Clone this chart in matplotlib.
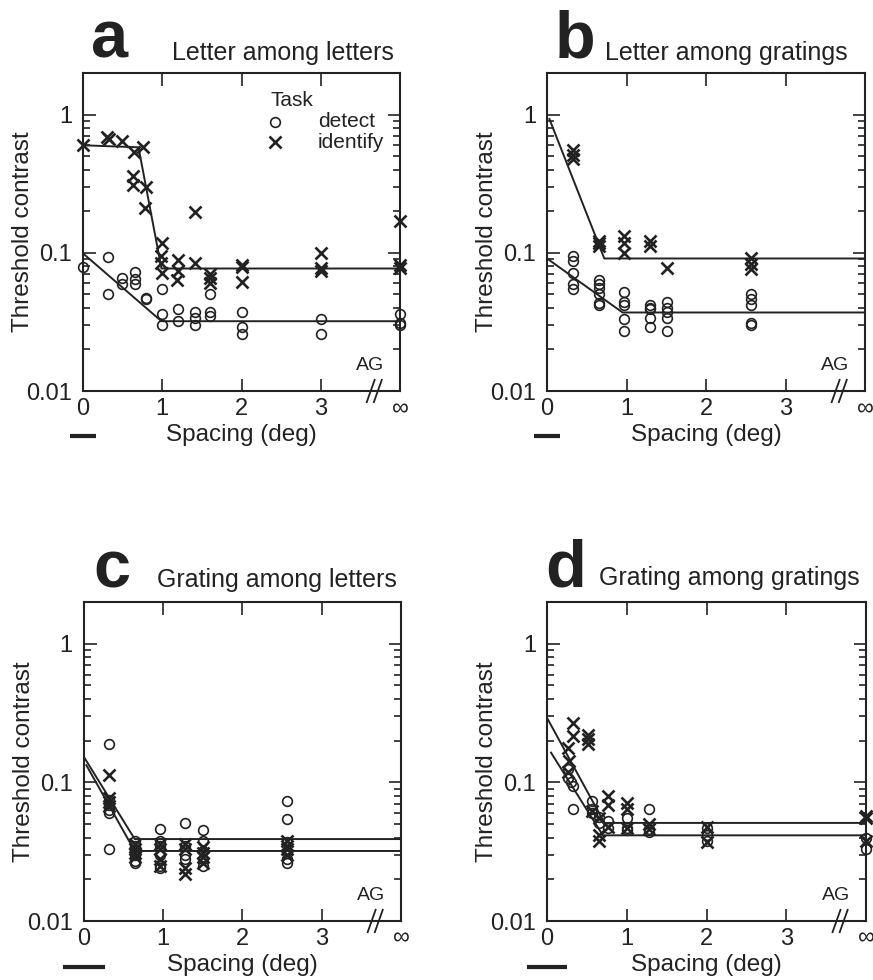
import numpy as np
import matplotlib
matplotlib.use("Agg")
import matplotlib.pyplot as plt
import matplotlib.transforms as mtransforms
from matplotlib.ticker import FixedLocator, LogLocator, NullFormatter

plt.rcParams['font.family'] = ['Liberation Sans', 'DejaVu Sans']

INK = '#222222'

# osa x: nekonečno (AG) kreslíme na x = 4
xtick_pos = [0, 1, 2, 3, 4]
xtick_lab = ['0', '1', '2', '3', '∞']
ytick_pos = [0.01, 0.1, 1]
ytick_lab = ['0.01', '0.1', '1']

letters = ['a', 'b', 'c', 'd']
titles = ['Letter among letters', 'Letter among gratings',
          'Grating among letters', 'Grating among gratings']
bar_len = [0.34, 0.33, 0.52, 0.51]   # vodorovná úsečka pod nulou (deg)

# ---- panel a ----
a_det_x = [0, 0.32, 0.32, 0.49, 0.49, 0.65, 0.65, 0.65, 0.79, 0.79,
           1.0, 1.0, 1.0, 1.2, 1.2, 1.41, 1.41, 1.41, 1.6, 1.6, 1.6,
           2, 2, 2, 3, 3, 4, 4, 4]
a_det_y = [0.079, 0.093, 0.050, 0.066, 0.059, 0.073, 0.065, 0.059, 0.047, 0.046,
           0.055, 0.036, 0.030, 0.039, 0.032, 0.037, 0.034, 0.030, 0.050, 0.037, 0.035,
           0.037, 0.029, 0.026, 0.033, 0.026, 0.036, 0.031, 0.030]
a_id_x = [0, 0.30, 0.33, 0.49, 0.64, 0.76, 0.63, 0.63, 0.79, 0.785,
          1.0, 0.99, 0.99, 1.0, 1.2, 1.19, 1.2, 1.41, 1.41, 1.6, 1.6, 1.6,
          2, 2, 2, 3, 3, 3, 4, 4, 4]
a_id_y = [0.60, 0.69, 0.67, 0.64, 0.54, 0.58, 0.36, 0.31, 0.30, 0.21,
          0.117, 0.095, 0.085, 0.072, 0.088, 0.064, 0.074, 0.197, 0.085, 0.066, 0.060, 0.070,
          0.082, 0.079, 0.062, 0.099, 0.078, 0.074, 0.17, 0.082, 0.078]
a_fit_det_x = [0, 0.99, 4]
a_fit_det_y = [0.099, 0.032, 0.032]
a_fit_id_x = [0, 0.70, 0.99, 4]
a_fit_id_y = [0.60, 0.58, 0.077, 0.077]

# ---- panel b ----
b_det_x = [0.33] * 5 + [0.65] * 6 + [0.97] * 5 + [1.29] * 5 + [1.51] * 5 + [2.56] * 5
b_det_y = [0.095, 0.087, 0.072, 0.059, 0.055,
           0.064, 0.059, 0.056, 0.050, 0.043, 0.042,
           0.052, 0.044, 0.042, 0.033, 0.027,
           0.042, 0.040, 0.039, 0.034, 0.029,
           0.044, 0.040, 0.037, 0.034, 0.027,
           0.050, 0.046, 0.042, 0.031, 0.030]
b_id_x = [0.33] * 3 + [0.65] * 3 + [0.97] * 3 + [1.29] * 2 + [1.51] + [2.56] * 3
b_id_y = [0.55, 0.51, 0.48,
          0.122, 0.117, 0.112,
          0.132, 0.118, 0.100,
          0.122, 0.112,
          0.078,
          0.092, 0.083, 0.076]
b_fit_det_x = [0, 0.95, 4]
b_fit_det_y = [0.091, 0.037, 0.037]
b_fit_id_x = [0.03, 0.72, 4]
b_fit_id_y = [0.93, 0.091, 0.091]

# ---- panel c ----
c_det_x = [0.32] * 6 + [0.64] * 6 + [0.96] * 6 + [1.28] * 4 + [1.50] * 5 + [2.56] * 6
c_det_y = [0.19, 0.075, 0.069, 0.063, 0.060, 0.033,
           0.038, 0.035, 0.032, 0.030, 0.027, 0.026,
           0.046, 0.038, 0.035, 0.030, 0.025, 0.024,
           0.051, 0.035, 0.030, 0.028,
           0.045, 0.038, 0.032, 0.028, 0.025,
           0.073, 0.054, 0.037, 0.032, 0.028, 0.026]
c_id_x = [0.32] * 4 + [0.64] * 4 + [0.96] * 4 + [1.28] * 4 + [1.50] * 4 + [2.56] * 4
c_id_y = [0.113, 0.077, 0.072, 0.068,
          0.036, 0.033, 0.031, 0.029,
          0.036, 0.033, 0.028, 0.025,
          0.036, 0.033, 0.024, 0.022,
          0.034, 0.031, 0.029, 0.026,
          0.038, 0.035, 0.033, 0.030]
c_fit_det_x = [0.01, 0.64, 4]
c_fit_det_y = [0.149, 0.039, 0.039]
c_fit_id_x = [0.03, 0.64, 4]
c_fit_id_y = [0.133, 0.032, 0.032]

# ---- panel d ----
d_det_x = [0.26, 0.26, 0.30, 0.33, 0.33, 0.56, 0.56, 0.56, 0.65, 0.65,
           0.77, 0.77, 1.0, 1.0, 1.0, 1.28, 1.28, 1.28, 2, 2, 2, 4, 4]
d_det_y = [0.124, 0.108, 0.100, 0.094, 0.064, 0.073, 0.064, 0.060, 0.056, 0.051,
           0.053, 0.047, 0.055, 0.047, 0.045, 0.064, 0.046, 0.044, 0.047, 0.042, 0.038,
           0.040, 0.033]
d_id_x = [0.26, 0.26, 0.28, 0.33, 0.33, 0.51, 0.51, 0.51, 0.56, 0.65, 0.65, 0.65,
          0.77, 0.77, 0.77, 1.0, 1.0, 1.0, 1.28, 1.28, 2, 2, 4, 4, 4]
d_id_y = [0.178, 0.118, 0.143, 0.27, 0.216, 0.22, 0.205, 0.188, 0.062, 0.055, 0.042, 0.038,
          0.080, 0.069, 0.048, 0.071, 0.064, 0.047, 0.050, 0.046, 0.048, 0.037,
          0.057, 0.055, 0.038]
d_fit_det_x = [0.05, 0.70, 4]
d_fit_det_y = [0.164, 0.0415, 0.0415]
d_fit_id_x = [0.01, 0.72, 4]
d_fit_id_y = [0.285, 0.051, 0.051]

panels = [
    (a_det_x, a_det_y, a_id_x, a_id_y, [(a_fit_det_x, a_fit_det_y), (a_fit_id_x, a_fit_id_y)]),
    (b_det_x, b_det_y, b_id_x, b_id_y, [(b_fit_det_x, b_fit_det_y), (b_fit_id_x, b_fit_id_y)]),
    (c_det_x, c_det_y, c_id_x, c_id_y, [(c_fit_det_x, c_fit_det_y), (c_fit_id_x, c_fit_id_y)]),
    (d_det_x, d_det_y, d_id_x, d_id_y, [(d_fit_det_x, d_fit_det_y), (d_fit_id_x, d_fit_id_y)]),
]

# umístění os (zlomky obrázku)
boxes = [[0.0951, 0.6010, 0.3631, 0.3245],
         [0.6266, 0.6010, 0.3643, 0.3245],
         [0.0962, 0.0602, 0.3631, 0.3255],
         [0.6266, 0.0602, 0.3654, 0.3255]]
letter_pos = [(0.025, 1.05), (0.025, 1.05), (0.03, 1.045), (-0.005, 1.05)]
title_pos = [(0.281, 1.041), (0.182, 1.041), (0.23, 1.047), (0.163, 1.053)]

fig = plt.figure(figsize=(8.73, 9.8), dpi=100)

for i in range(4):
    ax = fig.add_axes(boxes[i])
    det_x, det_y, id_x, id_y, fits = panels[i]

    for fx, fy in fits:
        ax.plot(fx, fy, color=INK, lw=1.4, zorder=2)
    ax.plot(det_x, det_y, 'o', mfc='none', mec=INK, ms=7.0, mew=1.2,
            clip_on=False, zorder=3)
    ax.plot(id_x, id_y, 'x', color=INK, ms=8.5, mew=1.9, clip_on=False, zorder=3)

    ax.set_yscale('log')
    ax.set_xlim(0, 4)
    ax.set_ylim(0.01, 2)
    ax.set_xticks(xtick_pos, xtick_lab)
    ax.yaxis.set_major_locator(FixedLocator(ytick_pos))
    ax.set_yticklabels(ytick_lab)
    ax.yaxis.set_minor_locator(LogLocator(base=10, subs=np.arange(2, 10)))
    ax.yaxis.set_minor_formatter(NullFormatter())
    ax.tick_params(which='both', direction='in', top=True, right=True,
                   width=1.2, color=INK, labelcolor=INK)
    ax.tick_params(which='major', length=9, labelsize=17)
    ax.tick_params(which='minor', length=5)
    ax.tick_params(axis='x', pad=5)
    ax.tick_params(axis='y', pad=8)
    for s in ax.spines.values():
        s.set_linewidth(1.5)
        s.set_color(INK)

    ax.set_ylabel('Threshold contrast', fontsize=17.5, color=INK)
    ax.yaxis.set_label_coords(-0.155, 0.5)
    ax.set_xlabel('Spacing (deg)', fontsize=17.5, color=INK)
    ax.xaxis.set_label_coords(0.5, -0.105)

    ax.text(letter_pos[i][0], letter_pos[i][1], letters[i], transform=ax.transAxes,
            fontsize=48, fontweight='bold', color=INK, ha='left', va='baseline')
    ax.text(title_pos[i][0], title_pos[i][1], titles[i], transform=ax.transAxes,
            fontsize=18, color=INK, ha='left', va='baseline')

    # AG a přerušení osy
    tr = mtransforms.blended_transform_factory(ax.transData, ax.transAxes)
    ax.text(3.62, 0.08, 'AG', transform=tr, fontsize=14, color=INK,
            ha='center', va='center')
    for xc in (3.63, 3.72):
        ax.plot([xc - 0.05, xc + 0.05], [-0.035, 0.035], transform=tr,
                color=INK, lw=1.3, clip_on=False)

    # úsečka pod nulou
    h = bar_len[i] / 2
    ax.plot([-h, h], [-0.143, -0.143], transform=tr, color=INK, lw=3,
            solid_capstyle='butt', clip_on=False)

    if i == 0:
        ax.text(0.59, 0.912, 'Task', transform=ax.transAxes, fontsize=15,
                color=INK, ha='left', va='center')
        ax.plot([0.606], [0.846], 'o', mfc='none', mec=INK, ms=7.0, mew=1.2,
                transform=ax.transAxes, clip_on=False)
        ax.plot([0.606], [0.782], 'x', color=INK, ms=8.5, mew=1.9,
                transform=ax.transAxes, clip_on=False)
        ax.text(0.741, 0.846, 'detect', transform=ax.transAxes, fontsize=15,
                color=INK, ha='left', va='center')
        ax.text(0.741, 0.782, 'identify', transform=ax.transAxes, fontsize=15,
                color=INK, ha='left', va='center')

fig.savefig('out.png', dpi=100)
